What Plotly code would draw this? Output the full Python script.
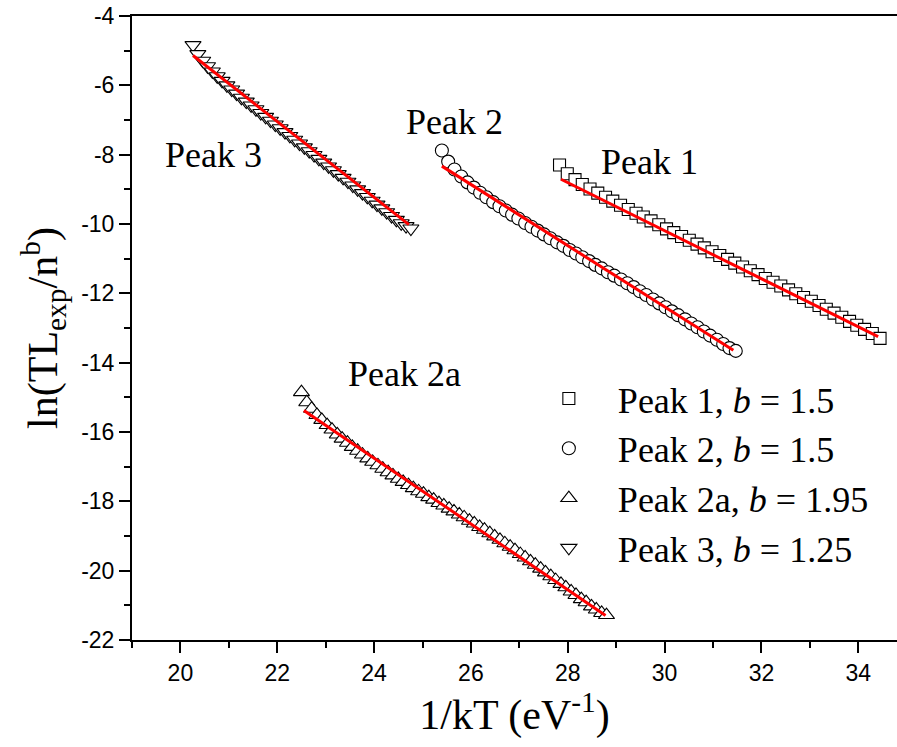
import plotly.graph_objects as go

# ---------------- data ----------------
p1_x = [27.83, 27.99, 28.15, 28.30, 28.46, 28.62, 28.78, 28.93, 29.09, 29.25, 29.41, 29.56,
        29.72, 29.88, 30.04, 30.19, 30.35, 30.51, 30.67, 30.82, 30.98, 31.14, 31.30, 31.45,
        31.61, 31.77, 31.93, 32.08, 32.24, 32.40, 32.56, 32.71, 32.87, 33.03, 33.19, 33.34,
        33.50, 33.66, 33.82, 33.97, 34.13, 34.29, 34.45]
p1_y = [-8.30, -8.55, -8.72, -8.86, -8.99, -9.11, -9.23, -9.34, -9.46, -9.58, -9.69, -9.80,
        -9.91, -10.02, -10.14, -10.25, -10.36, -10.47, -10.58, -10.69, -10.80, -10.91, -11.02, -11.13,
        -11.24, -11.35, -11.46, -11.57, -11.68, -11.79, -11.90, -12.01, -12.12, -12.23, -12.35, -12.46,
        -12.57, -12.69, -12.81, -12.92, -13.04, -13.16, -13.30]
p1_fit_x = [27.86, 34.41]
p1_fit_y = [-8.71, -13.25]

p2_x = [25.40, 25.53, 25.66, 25.80, 25.93, 26.06, 26.19, 26.32, 26.46, 26.59, 26.72, 26.85,
        26.98, 27.12, 27.25, 27.38, 27.51, 27.64, 27.78, 27.91, 28.04, 28.17, 28.30, 28.44,
        28.57, 28.70, 28.83, 28.96, 29.10, 29.23, 29.36, 29.49, 29.62, 29.76, 29.89, 30.02,
        30.15, 30.28, 30.42, 30.55, 30.68, 30.81, 30.94, 31.08, 31.21, 31.34, 31.47]
p2_y = [-7.88, -8.20, -8.43, -8.63, -8.80, -8.95, -9.10, -9.23, -9.37, -9.49, -9.61, -9.73,
        -9.84, -9.97, -10.08, -10.19, -10.30, -10.41, -10.53, -10.63, -10.75, -10.85, -10.96, -11.07,
        -11.18, -11.28, -11.39, -11.49, -11.60, -11.71, -11.82, -11.94, -12.05, -12.18, -12.29, -12.40,
        -12.52, -12.63, -12.75, -12.87, -12.98, -13.10, -13.22, -13.34, -13.46, -13.58, -13.66]
p2_fit_x = [25.40, 31.42]
p2_fit_y = [-8.33, -13.64]

p2a_x = [22.50, 22.61, 22.71, 22.82, 22.92, 23.03, 23.13, 23.24, 23.34, 23.45, 23.55, 23.66,
         23.76, 23.87, 23.97, 24.08, 24.18, 24.29, 24.39, 24.50, 24.60, 24.71, 24.81, 24.92,
         25.02, 25.13, 25.23, 25.34, 25.44, 25.55, 25.65, 25.76, 25.86, 25.97, 26.07, 26.18,
         26.28, 26.39, 26.49, 26.60, 26.70, 26.81, 26.91, 27.02, 27.12, 27.23, 27.33, 27.44,
         27.54, 27.65, 27.75, 27.86, 27.96, 28.07, 28.17, 28.28, 28.38, 28.49, 28.59, 28.70, 28.80]
p2a_y = [-14.85, -15.14, -15.33, -15.51, -15.65, -15.80, -15.93, -16.07, -16.19, -16.31, -16.43, -16.54,
         -16.65, -16.76, -16.86, -16.96, -17.06, -17.16, -17.25, -17.35, -17.44, -17.53, -17.62, -17.71,
         -17.78, -17.88, -17.95, -18.05, -18.12, -18.21, -18.29, -18.38, -18.46, -18.56, -18.64, -18.74,
         -18.82, -18.92, -19.01, -19.11, -19.21, -19.31, -19.41, -19.52, -19.62, -19.73, -19.83, -19.94,
         -20.05, -20.16, -20.27, -20.38, -20.48, -20.60, -20.70, -20.82, -20.91, -21.03, -21.12, -21.22, -21.28]
p2a_fit_x = [22.55, 28.78]
p2a_fit_y = [-15.38, -21.29]

p3_x = [20.26, 20.36, 20.46, 20.56, 20.66, 20.76, 20.86, 20.96, 21.06, 21.16, 21.26, 21.36,
        21.46, 21.56, 21.66, 21.76, 21.86, 21.96, 22.06, 22.16, 22.26, 22.36, 22.46, 22.56,
        22.66, 22.76, 22.86, 22.96, 23.06, 23.16, 23.26, 23.36, 23.46, 23.56, 23.66, 23.76,
        23.86, 23.96, 24.06, 24.16, 24.26, 24.36, 24.46, 24.56, 24.66, 24.76]
p3_y = [-4.84, -5.10, -5.29, -5.45, -5.60, -5.74, -5.87, -6.00, -6.12, -6.24, -6.36, -6.47,
        -6.58, -6.69, -6.80, -6.91, -7.02, -7.13, -7.24, -7.35, -7.46, -7.57, -7.68, -7.79,
        -7.90, -8.01, -8.12, -8.23, -8.34, -8.45, -8.56, -8.67, -8.78, -8.89, -9.00, -9.11,
        -9.22, -9.33, -9.44, -9.55, -9.66, -9.77, -9.88, -9.98, -10.06, -10.13]
p3_fit_x = [20.26, 24.72]
p3_fit_y = [-5.14, -10.02]

series_names = ["Peak 1, <i>b</i> = 1.5", "Peak 2, <i>b</i> = 1.5",
                "Peak 2a, <i>b</i> = 1.95", "Peak 3, <i>b</i> = 1.25"]
peak_labels = ["Peak 1", "Peak 2", "Peak 2a", "Peak 3"]
label_x = [29.69, 25.67, 24.62, 20.68]
label_y = [-8.21, -7.06, -14.32, -8.01]

x_ticks = [20, 22, 24, 26, 28, 30, 32, 34]
x_ticktext = ["20", "22", "24", "26", "28", "30", "32", "34"]
y_ticks = [-22, -20, -18, -16, -14, -12, -10, -8, -6, -4]
y_ticktext = ["-22", "-20", "-18", "-16", "-14", "-12", "-10", "-8", "-6", "-4"]

# ---------------- figure ----------------
SERIF = "Liberation Serif, Times New Roman, serif"
SANS = "Liberation Sans, Arial, sans-serif"

fig = go.Figure()
data_sets = [(p1_x, p1_y, "square", 12), (p2_x, p2_y, "circle", 13),
             (p2a_x, p2a_y, "triangle-up", 14), (p3_x, p3_y, "triangle-down", 14)]
for (xs, ys, sym, sz), name in zip(data_sets, series_names):
    fig.add_trace(go.Scatter(
        x=xs, y=ys, mode="markers", name=name,
        marker=dict(symbol=sym, size=sz, color="white",
                    line=dict(color="black", width=1.1)),
    ))

for fx, fy in [(p1_fit_x, p1_fit_y), (p2_fit_x, p2_fit_y),
               (p2a_fit_x, p2a_fit_y), (p3_fit_x, p3_fit_y)]:
    fig.add_trace(go.Scatter(x=fx, y=fy, mode="lines", showlegend=False,
                             line=dict(color="#ff0000", width=3)))

for t, lx, ly in zip(peak_labels, label_x, label_y):
    fig.add_annotation(x=lx, y=ly, text=t, showarrow=False,
                       font=dict(family=SERIF, size=36, color="black"))

fig.update_layout(
    width=897, height=747,
    margin=dict(l=132, r=0, t=16, b=107),
    paper_bgcolor="white", plot_bgcolor="white",
    showlegend=True,
    legend=dict(x=0.507, y=0.435, xanchor="left", yanchor="top",
                font=dict(family=SERIF, size=36, color="black"),
                bgcolor="rgba(0,0,0,0)", itemwidth=88, tracegroupgap=0),
    xaxis=dict(range=[19, 34.8], showgrid=False, zeroline=False,
               showline=True, linecolor="black", linewidth=2, mirror=True,
               ticks="outside", ticklen=11, tickwidth=2, tickcolor="black",
               tickvals=x_ticks, ticktext=x_ticktext,
               tickfont=dict(family=SANS, size=23, color="black"),
               minor=dict(ticks="outside", ticklen=6, tickwidth=2, dtick=1, tickcolor="black", showgrid=False),
               title=dict(text="1/kT (eV<sup>-1</sup>)", font=dict(family=SERIF, size=42, color="black"), standoff=8)),
    yaxis=dict(range=[-22, -4], showgrid=False, zeroline=False,
               showline=True, linecolor="black", linewidth=2,
               ticks="outside", ticklen=11, tickwidth=2, tickcolor="black",
               tickvals=y_ticks, ticktext=y_ticktext,
               tickfont=dict(family=SANS, size=23, color="black"),
               minor=dict(ticks="outside", ticklen=6, tickwidth=2, dtick=1, tickcolor="black", showgrid=False),
               title=dict(text="ln(TL<sub>exp</sub>/n<sup>b</sup>)", font=dict(family=SERIF, size=42, color="black"), standoff=10)),
)

fig.write_html("out.html")
